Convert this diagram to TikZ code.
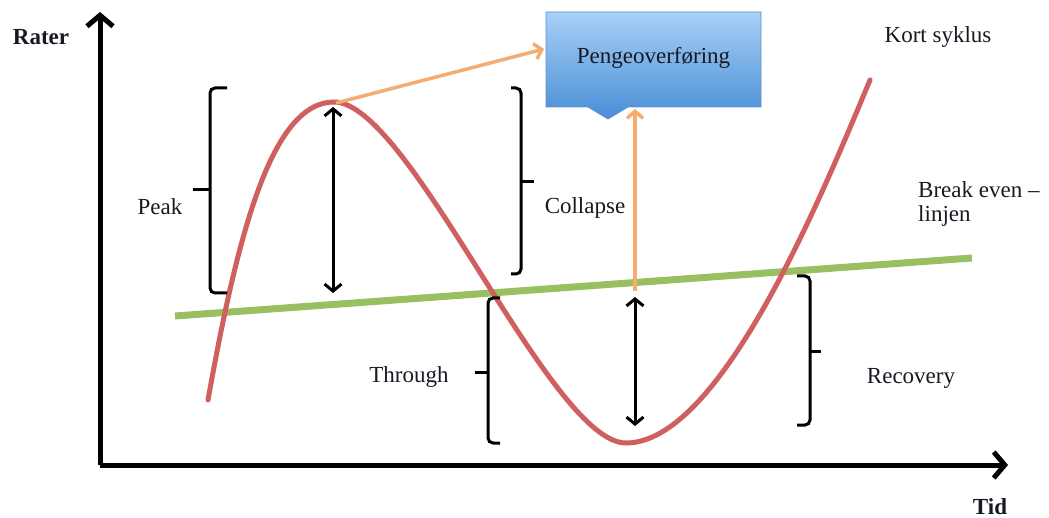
\documentclass[tikz,border=0pt]{standalone}
\usepackage{fontspec}
\setmainfont{Liberation Serif}
\usetikzlibrary{arrows.meta}
\definecolor{curvered}{RGB}{208,95,95}
\definecolor{linegreen}{RGB}{152,192,96}
\definecolor{arrorange}{RGB}{245,172,112}
\definecolor{boxtop}{RGB}{168,208,246}
\definecolor{boxbot}{RGB}{72,142,214}
\definecolor{boxedge}{RGB}{96,146,204}
\definecolor{txt}{RGB}{25,25,35}
\tikzset{
  lbl/.style={font=\fontsize{23}{27}\selectfont, text=txt, inner sep=0pt},
  axislbl/.style={font=\fontsize{23}{27}\selectfont\bfseries, text=txt, inner sep=0pt},
  axis/.style={line width=5pt, -{Straight Barb[length=11pt,width=26pt,line width=5pt]}},
  brack/.style={line width=3pt, rounded corners=5pt},
  dbl/.style={line width=3pt, {Straight Barb[length=7pt,width=17pt,line width=3pt]}-{Straight Barb[length=7pt,width=17pt,line width=3pt]}},
  orng/.style={line width=3.5pt, arrorange, -{Straight Barb[length=7pt,width=16pt,line width=3.5pt]}},
  calloutbox/.style={top color=boxtop, bottom color=boxbot, draw=boxedge, line width=0.8pt},
}
\begin{document}
\begin{tikzpicture}[x=1pt,y=-1pt]
\useasboundingbox[fill=white] (0,0) rectangle (1049,518);
% axes
\coordinate (O) at (100,465);
\coordinate (ytip) at (100,12);
\coordinate (xtip) at (1008,465);
\draw[axis] (O) -- (ytip);
\draw[axis] (O) -- (xtip);
\node[axislbl] (rater) at (41,37) {Rater};
\node[axislbl] (tid) at (990,507) {Tid};
% break-even line
\coordinate (g1) at (175,316);
\coordinate (g2) at (972,258);
\draw[linegreen, line width=7pt] (g1) -- (g2);
% cycle curve
\coordinate (c0) at (208,400);
\coordinate (pk) at (334,102);
\coordinate (tr) at (626,443);
\coordinate (c3) at (870,80);
\draw[curvered, line width=5pt, line cap=round] (c0) .. controls (238,232) and (272,102) .. (pk)
  .. controls (410,102) and (550,443) .. (tr)
  .. controls (720,443) and (820,200) .. (c3);
% box
\path[calloutbox] (546,12) -- (761,12) -- (761,107) -- (628,107) -- (608,119) -- (588,107) -- (546,107) -- cycle;
\node[lbl] (box) at (653.5,58) {Pengeoverføring};
% double arrows
\coordinate (a1t) at (333,107);
\coordinate (a1b) at (333,293);
\coordinate (a2t) at (635,297);
\coordinate (a2b) at (635,426);
\draw[dbl] (a1t) -- (a1b);
\draw[dbl] (a2t) -- (a2b);
% orange arrows
\coordinate (o1s) at (336,103);
\coordinate (o1e) at (544,49);
\coordinate (o2s) at (635,291);
\coordinate (o2e) at (635,109);
\draw[orng] (o1s) -- (o1e);
\draw[orng] (o2s) -- (o2e);
% brackets
\draw[brack] (227,88) -- (210,88) -- (210,293) -- (227,293);
\draw[line width=3pt] (210,190) -- (193,190);
\node[lbl] (peak) at (160,207) {Peak};
\draw[brack] (511,88) -- (521,88) -- (521,274) -- (511,274);
\draw[line width=3pt] (521,182) -- (534,182);
\node[lbl] (collapse) at (585,208) {Collapse};
\draw[brack] (500,298) -- (488,298) -- (488,443) -- (500,443);
\draw[line width=3pt] (488,372) -- (475,372);
\node[lbl] (through) at (409,377) {Through};
\draw[brack] (797,276) -- (810,276) -- (810,425) -- (797,425);
\draw[line width=3pt] (810,352) -- (821,352);
\node[lbl] (recovery) at (911,378) {Recovery};
% side labels
\node[lbl] (kort) at (938,37) {Kort syklus};
\node[lbl, anchor=west] (be1) at (918,190) {Break even –};
\node[lbl, anchor=west] (be2) at (918,216) {linjen};
\end{tikzpicture}
\end{document}
